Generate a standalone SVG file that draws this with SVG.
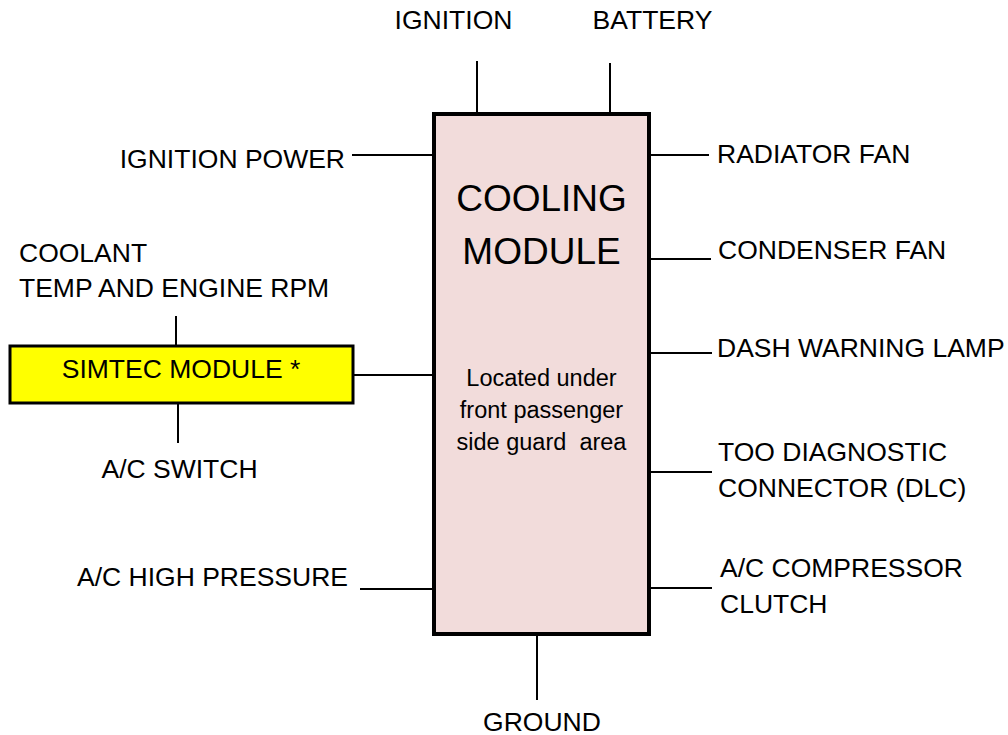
<svg xmlns="http://www.w3.org/2000/svg" width="1008" height="735" viewBox="0 0 1008 735">
<style>
text{font-family:"Liberation Sans",Arial,sans-serif;fill:#000}
.lbl{font-size:26.5px}
.big{font-size:37px}
.small{font-size:23.5px}
.wire{stroke:#000;stroke-width:2;fill:none}
</style>
<rect width="1008" height="735" fill="#fff"/>
<g id="connectors">
<line class="wire" x1="477" y1="61" x2="477" y2="114"/>
<line class="wire" x1="610" y1="63" x2="610" y2="114"/>
<line class="wire" x1="352" y1="155" x2="434" y2="155"/>
<line class="wire" x1="649" y1="155" x2="709" y2="155"/>
<line class="wire" x1="649" y1="259" x2="711" y2="259"/>
<line class="wire" x1="649" y1="353" x2="712" y2="353"/>
<line class="wire" x1="649" y1="472" x2="712" y2="472"/>
<line class="wire" x1="649" y1="588" x2="712" y2="588"/>
<line class="wire" x1="360" y1="589" x2="434" y2="589"/>
<line class="wire" x1="353" y1="375" x2="434" y2="375"/>
<line class="wire" x1="176" y1="316" x2="176" y2="346"/>
<line class="wire" x1="178" y1="403" x2="178" y2="443"/>
<line class="wire" x1="537" y1="634" x2="537" y2="700"/>
</g>
<g id="cooling-module">
<rect x="434" y="114" width="215" height="520" fill="#F2DCDB" stroke="#000" stroke-width="4"/>
<text class="big" x="541.5" y="211" text-anchor="middle">COOLING</text>
<text class="big" x="541.5" y="264" text-anchor="middle">MODULE</text>
<text class="small" x="541.5" y="386" text-anchor="middle">Located under</text>
<text class="small" x="541.5" y="418" text-anchor="middle">front passenger</text>
<text class="small" x="541.5" y="450" text-anchor="middle" xml:space="preserve">side guard  area</text>
</g>
<g id="simtec-module">
<rect x="10" y="346" width="343" height="57" fill="#FFFF00" stroke="#000" stroke-width="3"/>
<text class="lbl" x="181" y="378" text-anchor="middle">SIMTEC MODULE *</text>
</g>
<g id="ignition"><text class="lbl" x="453.5" y="29" text-anchor="middle">IGNITION</text></g>
<g id="battery"><text class="lbl" x="652.5" y="29" text-anchor="middle">BATTERY</text></g>
<g id="ignition-power"><text class="lbl" x="345" y="168" text-anchor="end">IGNITION POWER</text></g>
<g id="radiator-fan"><text class="lbl" x="717" y="163">RADIATOR FAN</text></g>
<g id="condenser-fan"><text class="lbl" x="718" y="259">CONDENSER FAN</text></g>
<g id="coolant"><text class="lbl" x="19" y="262">COOLANT</text><text class="lbl" x="19" y="297">TEMP AND ENGINE RPM</text></g>
<g id="ac-switch"><text class="lbl" x="179.5" y="478" text-anchor="middle">A/C SWITCH</text></g>
<g id="ac-high-pressure"><text class="lbl" x="348" y="586" text-anchor="end">A/C HIGH PRESSURE</text></g>
<g id="dash-warning-lamp"><text class="lbl" x="717" y="357">DASH WARNING LAMP</text></g>
<g id="too-dlc"><text class="lbl" x="718" y="461">TOO DIAGNOSTIC</text><text class="lbl" x="718" y="497">CONNECTOR (DLC)</text></g>
<g id="ac-compressor"><text class="lbl" x="720" y="577">A/C COMPRESSOR</text><text class="lbl" x="720" y="613">CLUTCH</text></g>
<g id="ground"><text class="lbl" x="542" y="731" text-anchor="middle">GROUND</text></g>
</svg>
